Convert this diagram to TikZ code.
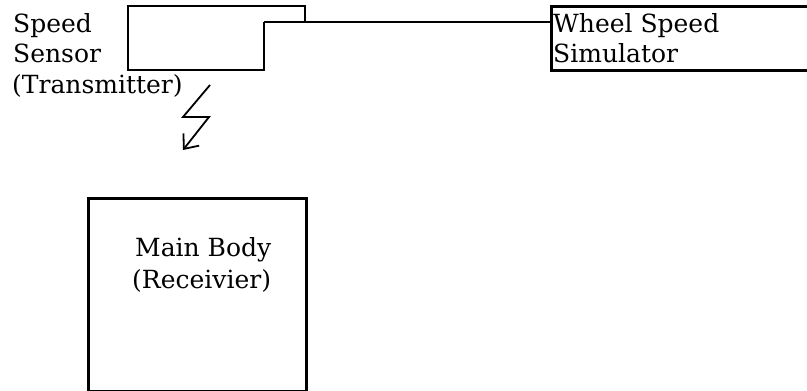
\documentclass[tikz,border=0pt]{standalone}
\usepackage{fontspec}
\setmainfont{DejaVu Serif}
\usetikzlibrary{arrows.meta}
\begin{document}
\begin{tikzpicture}[x=1pt,y=-1pt,
  line/.style={line width=2.6pt},
  box/.style={draw,line width=2.6pt,anchor=north west,inner sep=0pt},
  lbl/.style={anchor=base west,inner sep=0pt,font=\fontsize{25}{31}\selectfont}]
\useasboundingbox (0,0) rectangle (807,391);
\clip (0,0) rectangle (807,391);
% sensor housing
\coordinate (s1) at (128,6);
\coordinate (s2) at (305,6);
\coordinate (s3) at (305,22);
\coordinate (s4) at (264,22);
\coordinate (s5) at (264,70);
\coordinate (s6) at (128,70);
\draw[line] (s4) -- (s5) -- (s6) -- (s1) -- (s2) -- (s3);
% simulator
\node[box,minimum width=300pt,minimum height=64pt] (sim) at (550,5) {};
\draw[line] (s4) -- (s4 -| sim.west);
% main body
\node[box,minimum width=218pt,minimum height=193pt] (body) at (87,197) {};
% lightning
\coordinate (l1) at (210,85);
\coordinate (l2) at (183,117);
\coordinate (l3) at (209,117);
\coordinate (l4) at (183,150);
\draw[line width=1.8pt,-{Straight Barb[length=12pt,width=20pt]}] (l1) -- (l2) -- (l3) -- (l4);
% labels
\node[lbl] (t1) at (13,32) {Speed};
\node[lbl] (t2) at (13,62) {Sensor};
\node[lbl] (t3) at (12,93) {(Transmitter)};
\node[lbl] (w1) at (553,32) {Wheel Speed};
\node[lbl] (w2) at (553,62) {Simulator};
\node[lbl] (m1) at (135,256) {Main Body};
\node[lbl] (m2) at (132,288) {(Receivier)};
\end{tikzpicture}
\end{document}
